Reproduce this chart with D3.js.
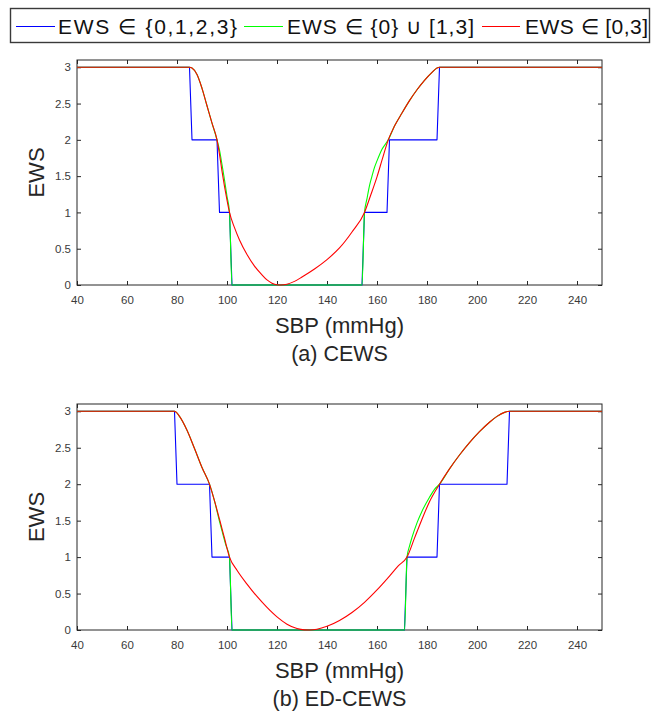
<!DOCTYPE html>
<html><head><meta charset="utf-8">
<script src="https://cdn.jsdelivr.net/npm/d3@7"></script>
<style>
body{margin:0;background:#fff}
text{font-family:"Liberation Sans",Arial,Helvetica,sans-serif}
</style>
</head><body>
<svg id="chart" width="652" height="714"></svg>
<script>
// ---------- data ----------
const xDomain = [40, 250];
const yDomain = [0, 3.1];
const xTicks = [40, 60, 80, 100, 120, 140, 160, 180, 200, 220, 240];
const yTicks = [0, 0.5, 1, 1.5, 2, 2.5, 3];
const legendLabels = ["EWS \u2208 {0,1,2,3}", "EWS \u2208 {0} \u222A [1,3]", "EWS \u2208 [0,3]"];
const seriesColors = ["#0000ff", "#00ff00", "#ff0000"];
const panelTitles = ["(a) CEWS", "(b) ED-CEWS"];
const xLabel = "SBP (mmHg)";
const yLabel = "EWS";

// (a) CEWS
const cewsDiscrete = [[40,3],[85,3],[86,2],[96,2],[97,1],[101,1],[102,0],[154,0],[155,1],[164,1],[165,2],[184,2],[185,3],[250,3]];
const cewsMixed = [[40,3],[85,3],[86,2.99],[88,2.9],[90,2.71],[92,2.47],[94,2.23],[96,2.0],[97,1.86],[98,1.66],[99,1.45],[100,1.22],[101,1.0],[102,0],[154,0],[155,1.0],[156,1.19],[157,1.37],[158,1.5],[159,1.62],[160,1.71],[162,1.87],[164.5,2.0],[167,2.19],[170,2.37],[173,2.54],[176,2.69],[179,2.82],[182,2.93],[184,2.99],[185,3],[250,3]];
const cewsContinuous = [[40,3],[85,3],[86,2.99],[88,2.9],[90,2.71],[92,2.47],[94,2.23],[96,2.0],[97,1.8],[98,1.57],[99,1.36],[100,1.17],[101,1.0],[103,0.79],[105,0.62],[108,0.42],[111,0.26],[114,0.14],[116,0.07],[118,0.025],[120,0.003],[121.5,0],[124,0.01],[127,0.05],[130,0.11],[135,0.22],[140,0.35],[145,0.51],[150,0.73],[155,1.0],[157.5,1.24],[160,1.49],[162,1.72],[164.5,2.0],[167,2.19],[170,2.37],[173,2.54],[176,2.69],[179,2.82],[182,2.93],[184,2.99],[185,3],[250,3]];

// (b) ED-CEWS
const edDiscrete = [[40,3],[79,3],[80,2],[93,2],[94,1],[101,1],[102,0],[171,0],[172,1],[184,1],[185,2],[212,2],[213,3],[250,3]];
const edMixed = [[40,3],[79,3],[81,2.93],[84,2.74],[87,2.49],[90,2.23],[93,2.0],[95,1.77],[97,1.49],[98,1.36],[99.5,1.17],[101,1.0],[102,0],[171,0],[172,1.0],[173,1.15],[174,1.27],[176,1.47],[178,1.63],[181,1.82],[183,1.93],[185,2.0],[189,2.21],[193,2.4],[197,2.57],[201,2.72],[205,2.85],[208,2.93],[211,2.985],[213,3],[250,3]];
const edContinuous = [[40,3],[79,3],[81,2.93],[84,2.74],[87,2.49],[90,2.23],[93,2.0],[95,1.77],[97,1.52],[99,1.26],[101,1.0],[104,0.82],[108,0.63],[112,0.46],[116,0.31],[120,0.18],[124,0.08],[128,0.02],[131,0.002],[133,0],[136,0.01],[140,0.05],[145,0.13],[150,0.24],[155,0.38],[160,0.55],[165,0.74],[168.5,0.88],[172,1.0],[175,1.26],[178,1.52],[181,1.76],[185,2.0],[189,2.21],[193,2.4],[197,2.57],[201,2.72],[205,2.85],[208,2.93],[211,2.985],[213,3],[250,3]];

const panelSeries = [
  [cewsDiscrete, cewsMixed, cewsContinuous],
  [edDiscrete, edMixed, edContinuous]
];

// ---------- layout ----------
const svg = d3.select("#chart");
const axisColor = "#262626";
const left = 77, right = 602;
const panelBoxes = [{top:60, bottom:285}, {top:404, bottom:630}];

panelBoxes.forEach((box, i) => {
  const x = d3.scaleLinear().domain(xDomain).range([left, right]);
  const y = d3.scaleLinear().domain(yDomain).range([box.bottom, box.top]);
  const g = svg.append("g");

  const fmt = d => String(d);
  const styleAxis = sel => {
    sel.selectAll("path,line").attr("stroke", axisColor).attr("stroke-width", 1);
    sel.selectAll("text").attr("fill", "#3a3a3a").style("font-size", "11.5px")
      .style("font-family", '"Liberation Sans",Arial,sans-serif');
  };
  g.append("g").attr("transform", `translate(0,${box.bottom})`)
    .call(d3.axisBottom(x).tickValues(xTicks).tickFormat(fmt).tickSize(-4).tickSizeOuter(0).tickPadding(11))
    .call(styleAxis);
  g.append("g").attr("transform", `translate(0,${box.top})`)
    .call(d3.axisTop(x).tickValues(xTicks).tickFormat("").tickSize(-4).tickSizeOuter(0))
    .call(styleAxis);
  g.append("g").attr("transform", `translate(${left},0)`)
    .call(d3.axisLeft(y).tickValues(yTicks).tickFormat(fmt).tickSize(-4).tickSizeOuter(0).tickPadding(6))
    .call(styleAxis);
  g.append("g").attr("transform", `translate(${right},0)`)
    .call(d3.axisRight(y).tickValues(yTicks).tickFormat("").tickSize(-4).tickSizeOuter(0))
    .call(styleAxis);
  g.selectAll(".domain").remove();
  g.append("rect").attr("x", left).attr("y", box.top)
    .attr("width", right - left).attr("height", box.bottom - box.top)
    .attr("fill", "none").attr("stroke", axisColor).attr("stroke-width", 1);

  panelSeries[i].forEach((s, k) => {
    const line = d3.line().x(d => x(d[0])).y(d => y(d[1]))
      .curve(k === 0 ? d3.curveLinear : d3.curveMonotoneX);
    g.append("path").datum(s)
      .attr("d", line)
      .attr("fill", "none").attr("stroke", seriesColors[k]).attr("stroke-width", 1.1)
      .attr("stroke-linejoin", "round");
  });

  g.append("text").attr("x", (left + right) / 2).attr("y", box.bottom + 47.5)
    .attr("text-anchor", "middle").style("font-size", "22px").attr("fill", "#262626").text(xLabel);
  g.append("text").attr("x", (left + right) / 2).attr("y", box.bottom + 76)
    .attr("text-anchor", "middle").style("font-size", "21.5px").attr("fill", "#262626").text(panelTitles[i]);
  g.append("text").attr("transform", `translate(44,${(box.top + box.bottom) / 2}) rotate(-90)`)
    .attr("text-anchor", "middle").style("font-size", "22px").attr("fill", "#262626").text(yLabel);
});

// ---------- legend ----------
const lg = svg.append("g");
lg.append("rect").attr("x", 10.5).attr("y", 8.5).attr("width", 639).attr("height", 34)
  .attr("fill", "#fff").attr("stroke", "#3a3a3a").attr("stroke-width", 1.4);
const legendItems = [
  {x1:16, x2:55, tx:58, tw:179},
  {x1:244, x2:283, tx:287, tw:187},
  {x1:482, x2:520, tx:525, tw:123}
];
legendItems.forEach((it, k) => {
  lg.append("line").attr("x1", it.x1).attr("x2", it.x2).attr("y1", 26.5).attr("y2", 26.5)
    .attr("stroke", seriesColors[k]).attr("stroke-width", 1.1);
  lg.append("text").attr("x", it.tx).attr("y", 34)
    .attr("textLength", it.tw).attr("lengthAdjust", "spacing")
    .style("font-size", "21px").attr("fill", "#111").text(legendLabels[k]);
});
</script>
</body></html>
